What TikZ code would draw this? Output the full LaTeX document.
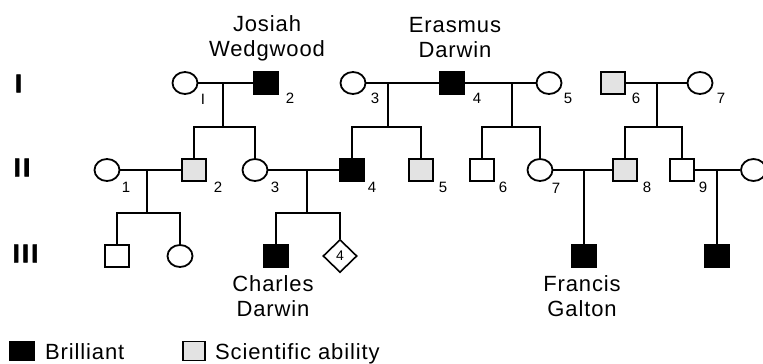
\documentclass[tikz,border=0pt]{standalone}
\usepackage{fontspec}
\setmainfont{Liberation Sans}
\usetikzlibrary{shapes.geometric}
\begin{document}
\begin{tikzpicture}[x=1pt,y=-1pt,
  fem/.style={ellipse, draw, minimum width=25pt, minimum height=22pt, inner sep=0pt, line width=1.8pt},
  mal/.style={rectangle, draw, minimum width=24pt, minimum height=22pt, inner sep=0pt, line width=1.8pt},
  bril/.style={mal, fill=black},
  sci/.style={mal, fill=black!11},
  dia/.style={diamond, draw, minimum width=34pt, minimum height=33pt, inner sep=0pt, line width=1.6pt, font=\fontsize{14}{14}\selectfont},
  num/.style={font=\fontsize{15}{15}\selectfont, inner sep=0pt},
  gen/.style={font=\fontsize{26}{26}\selectfont\bfseries\addfontfeature{FakeBold=2,LetterSpace=8}, inner sep=0pt},
  pname/.style={font=\fontsize{22}{25}\selectfont\addfontfeature{LetterSpace=4}, align=center, inner sep=0pt},
  leg/.style={font=\fontsize{22}{25}\selectfont\addfontfeature{LetterSpace=4}, inner sep=0pt, anchor=base west},
  ln/.style={line width=1.5pt}]
\clip (0,0) rectangle (763,364);
\fill[white] (0,0) rectangle (763,364);

% generation labels
\node[gen] (gI) at (18.5,83.5) {I};
\node[gen] (gII) at (22,167.5) {II};
\node[gen] (gIII) at (25.5,253.5) {III};

% generation I
\node[fem]  (I1) at (185,83) {};
\node[bril] (I2) at (266,83) {};
\node[fem]  (I3) at (353,83) {};
\node[bril] (I4) at (452,83) {};
\node[fem]  (I5) at (549,83) {};
\node[sci]  (I6) at (613,83) {};
\node[fem]  (I7) at (700,83) {};

\node[num] (nI1) at (203,99) {I};
\node[num] (nI2) at (290,98) {2};
\node[num] (nI3) at (375,98) {3};
\node[num] (nI4) at (477,98) {4};
\node[num] (nI5) at (568,98) {5};
\node[num] (nI6) at (636,98) {6};
\node[num] (nI7) at (721,98) {7};

% generation II
\node[fem]  (II1) at (107,170) {};
\node[sci]  (II2) at (194,170) {};
\node[fem]  (II3) at (255,170) {};
\node[bril] (II4) at (352,170) {};
\node[sci]  (II5) at (421,170) {};
\node[mal]  (II6) at (482,170) {};
\node[fem]  (II7) at (540,170) {};
\node[sci]  (II8) at (625,170) {};
\node[mal]  (II9) at (682,170) {};
\node[fem]  (II10) at (753.5,170) {};

\node[num] (nII1) at (126,187) {1};
\node[num] (nII2) at (218,187) {2};
\node[num] (nII3) at (275,187) {3};
\node[num] (nII4) at (372,187) {4};
\node[num] (nII5) at (443,187) {5};
\node[num] (nII6) at (503,187) {6};
\node[num] (nII7) at (556,188) {7};
\node[num] (nII8) at (647,187) {8};
\node[num] (nII9) at (703,187) {9};

% generation III
\node[mal]  (III1) at (117,256) {};
\node[fem]  (III2) at (180,256) {};
\node[bril] (III3) at (276,256) {};
\node[dia]  (III4) at (340,256) {4};
\node[bril] (III5) at (584,256) {};
\node[bril] (III6) at (717,256) {};

% names
\node[pname] (josiah) at (267,38) {Josiah\\Wedgwood};
\node[pname] (erasmus) at (455,38) {Erasmus\\Darwin};
\node[pname] (charles) at (273,296) {Charles\\Darwin};
\node[pname] (francis) at (582,296) {Francis\\Galton};

% connectors
\coordinate (m1) at (223,83);  \coordinate (s1) at (223,127);
\coordinate (m2) at (388,83);  \coordinate (s2) at (388,127);
\coordinate (m3) at (512,83);  \coordinate (s3) at (512,127);
\coordinate (m4) at (657,83);  \coordinate (s4) at (657,127);
\coordinate (m5) at (147,170); \coordinate (s5) at (147,213);
\coordinate (m6) at (307,170); \coordinate (s6) at (307,213);
\coordinate (m7) at (584,170);
\coordinate (m8) at (717,170);

\draw[ln] (I1) -- (I2);
\draw[ln] (I3) -- (I4);
\draw[ln] (I4) -- (I5);
\draw[ln] (I6) -- (I7);
\draw[ln] (m1) -- (s1);
\draw[ln] (m2) -- (s2);
\draw[ln] (m3) -- (s3);
\draw[ln] (m4) -- (s4);
\draw[ln] (II2.north) |- (s1) -| (II3.north);
\draw[ln] (II4.north) |- (s2) -| (II5.north);
\draw[ln] (II6.north) |- (s3) -| (II7.north);
\draw[ln] (II8.north) |- (s4) -| (II9.north);

\draw[ln] (II1) -- (II2);
\draw[ln] (II3) -- (II4);
\draw[ln] (II7) -- (II8);
\draw[ln] (II9) -- (II10);
\draw[ln] (m5) -- (s5);
\draw[ln] (m6) -- (s6);
\draw[ln] (III1.north) |- (s5) -| (III2.north);
\draw[ln] (III3.north) |- (s6) -| (III4.north);
\draw[ln] (m7) -- (III5);
\draw[ln] (m8) -- (III6);

% legend
\node[bril, minimum width=24pt, minimum height=19pt] (lb) at (22,351) {};
\node[leg] (lbt) at (45,359) {Brilliant};
\node[sci, minimum width=22pt, minimum height=19pt] (ls) at (194,351) {};
\node[leg] (lst) at (215,359) {Scientific ability};
\end{tikzpicture}
\end{document}
